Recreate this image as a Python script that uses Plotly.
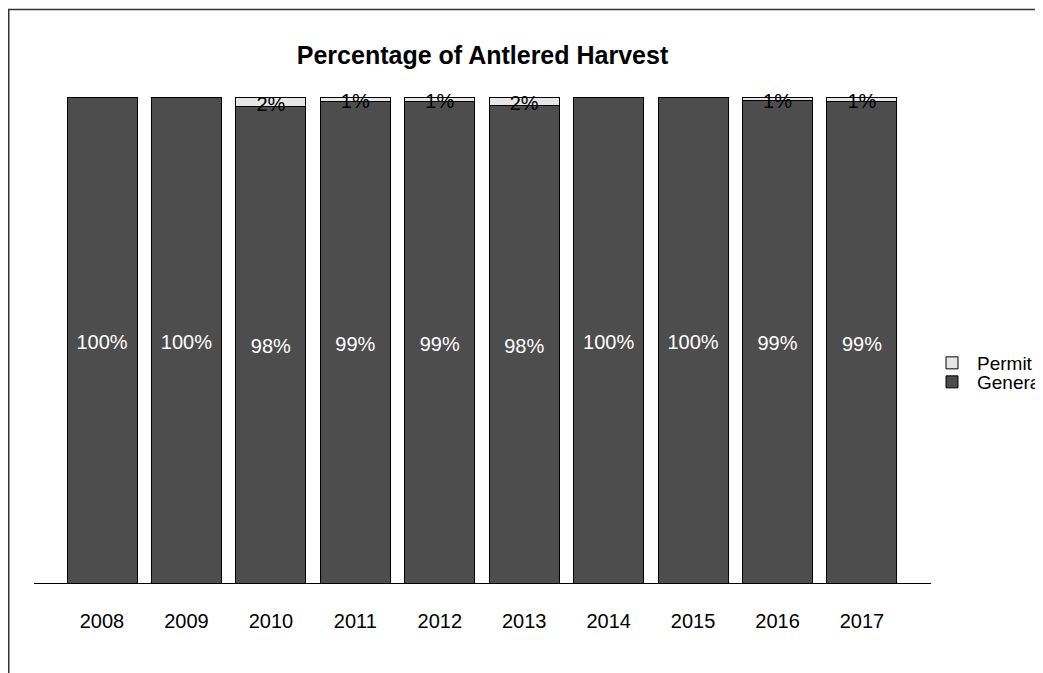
import plotly.graph_objects as go

# data
years = ["2008", "2009", "2010", "2011", "2012", "2013", "2014", "2015", "2016", "2017"]
permit = [0.0, 0.0, 1.8, 0.8, 0.8, 1.6, 0.0, 0.0, 0.6, 0.7]
general = [100.0 - p for p in permit]

W, H = 1043, 673
OFF = 8                                  # page body margin
L, R, T, B = 34 - OFF, 931 - OFF, 93 - OFF, 583 - OFF   # plot area in figure px
pw, ph = R - L, B - T
FONT = "Liberation Sans, Arial, sans-serif"
DY = 0.7                                 # nudge labels down (R centres on glyph, not box)

fig = go.Figure()
fig.add_trace(go.Bar(x=years, y=general, name="General", legend="legend2",
                     marker=dict(color="#4d4d4d", line=dict(color="black", width=1))))
fig.add_trace(go.Bar(x=years, y=permit, name="Permit", legend="legend",
                     marker=dict(color="#e6e6e6", line=dict(color="black", width=1))))

# percentage labels in the middle of each segment
fig.add_trace(go.Scatter(x=years, y=[g / 2 - DY for g in general], mode="text",
                         text=[f"{round(g)}%" for g in general], showlegend=False,
                         textfont=dict(color="white", size=20, family=FONT), hoverinfo="skip"))
pl = [(y, g + p / 2 - DY, f"{round(p)}%") for y, g, p in zip(years, general, permit) if p > 0]
fig.add_trace(go.Scatter(x=[a[0] for a in pl], y=[a[1] for a in pl], mode="text",
                         text=[a[2] for a in pl], showlegend=False,
                         textfont=dict(color="black", size=20, family=FONT), hoverinfo="skip"))

step = 84.44
c0 = 102 - OFF
fig.update_xaxes(type="category", range=[(L - c0) / step, (R - c0) / step],
                 showline=True, linecolor="black", linewidth=1, showgrid=False,
                 ticks="", ticklabelstandoff=20,
                 tickfont=dict(size=20, family=FONT, color="black"))
fig.update_yaxes(range=[0, 101], visible=False, showgrid=False, zeroline=False)

# frame around the figure (top/left edges visible)
fig.add_shape(type="rect", xref="paper", yref="paper",
              x0=(0.75 - L) / pw, x1=(W + 10 - L) / pw,
              y0=(B - (H + 10)) / ph, y1=(B - 1.5) / ph,
              line=dict(color="#333333", width=1.5), layer="below")

leg = dict(xanchor="left", yanchor="middle", bgcolor="rgba(0,0,0,0)", itemwidth=40,
           font=dict(size=19, family=FONT, color="black"))
fig.update_layout(
    width=W, height=H, barmode="stack", bargap=0.171,
    margin=dict(l=L, r=W - R, t=T, b=H - B, autoexpand=False),
    paper_bgcolor="white", plot_bgcolor="white",
    title=dict(text="<b>Percentage of Antlered Harvest</b>", x=0.5, xref="paper",
               y=1 - (55 - OFF) / H, yref="container", yanchor="middle", xanchor="center",
               font=dict(size=25, family=FONT, color="black")),
    legend=dict(leg, x=(927 - OFF - L) / pw, y=(B - (363 - OFF)) / ph),
    legend2=dict(leg, x=(927 - OFF - L) / pw, y=(B - (382 - OFF)) / ph),
    font=dict(family=FONT),
)

fig.write_html("out.html")
